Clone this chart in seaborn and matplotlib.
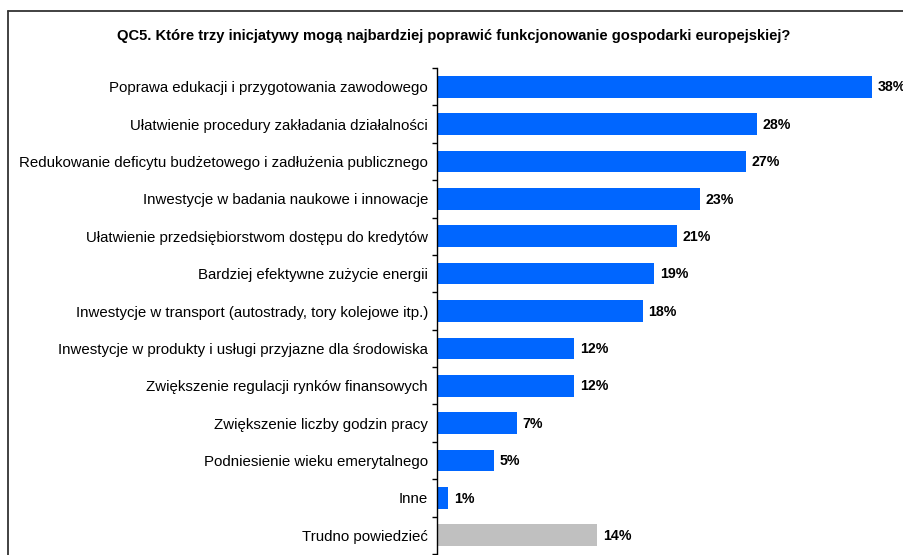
import matplotlib
matplotlib.use("Agg")
import matplotlib.pyplot as plt
import seaborn as sns
import pandas as pd
import numpy as np
from matplotlib.lines import Line2D

categories = [
    "Poprawa edukacji i przygotowania zawodowego",
    "Ułatwienie procedury zakładania działalności",
    "Redukowanie deficytu budżetowego i zadłużenia publicznego",
    "Inwestycje w badania naukowe i innowacje",
    "Ułatwienie przedsiębiorstwom dostępu do kredytów",
    "Bardziej efektywne zużycie energii",
    "Inwestycje w transport (autostrady, tory kolejowe itp.)",
    "Inwestycje w produkty i usługi przyjazne dla środowiska",
    "Zwiększenie regulacji rynków finansowych",
    "Zwiększenie liczby godzin pracy",
    "Podniesienie wieku emerytalnego",
    "Inne",
    "Trudno powiedzieć",
]
values = [38, 28, 27, 23, 21, 19, 18, 12, 12, 7, 5, 1, 14]
value_labels = ["38%", "28%", "27%", "23%", "21%", "19%", "18%", "12%", "12%", "7%", "5%", "1%", "14%"]
title = "QC5. Które trzy inicjatywy mogą najbardziej poprawić funkcjonowanie gospodarki europejskiej?"

BLUE = "#0066FF"
GREY = "#C0C0C0"
colors = [BLUE] * 12 + [GREY]

sns.set_theme(style="white")
plt.rcParams["font.family"] = ["Liberation Sans", "DejaVu Sans"]

W, H = 904, 555
fig = plt.figure(figsize=(W / 100, H / 100), dpi=100)
left_px, top_px, bottom_px = 437, 68, 554
xmax = 40
scale = 11.44
width_px = xmax * scale
ax = fig.add_axes([left_px / W, (H - bottom_px) / H, width_px / W, (bottom_px - top_px) / H])

df = pd.DataFrame({"cat": categories, "val": values})
sns.barplot(data=df, x="val", y="cat", hue="cat", palette=colors, legend=False,
            orient="h", width=0.58, ax=ax, saturation=1, linewidth=0)

ax.set_xlim(0, xmax)
ax.set_ylim(len(categories) - 0.5, -0.5)
for s in ["top", "right", "bottom"]:
    ax.spines[s].set_visible(False)
ax.spines["left"].set_color("black")
ax.spines["left"].set_linewidth(1.0)
ax.set_xticks([])
ax.set_xlabel("")
ax.set_ylabel("")

n = len(categories)
ax.set_yticks(np.arange(n + 1) - 0.5)
ax.set_yticklabels([])
ax.tick_params(axis="y", which="major", length=3.8, width=1.0, direction="out", left=True, color="black")
ax.set_yticks(np.arange(n), minor=True)
ax.set_yticklabels(categories, minor=True, fontsize=10.8, color="black")
ax.tick_params(axis="y", which="minor", length=0, pad=6.5)

for i, (v, lab) in enumerate(zip(values, value_labels)):
    ax.annotate(lab, xy=(v, i), xytext=(4.0, -0.5), textcoords="offset points",
                ha="left", va="center", fontsize=10.2, fontweight="bold", color="black")

fig.text(454 / W, 1 - 36 / H, title, ha="center", va="center", fontsize=10.6, fontweight="bold", color="black")

# frame lines (left and top)
fig.add_artist(Line2D([7.5 / W, 7.5 / W], [0, 1 - 11 / H], transform=fig.transFigure, color="#333333", lw=1.3))
fig.add_artist(Line2D([7.5 / W, 1], [1 - 11 / H, 1 - 11 / H], transform=fig.transFigure, color="#333333", lw=1.3))

fig.savefig("out.png", dpi=100)
